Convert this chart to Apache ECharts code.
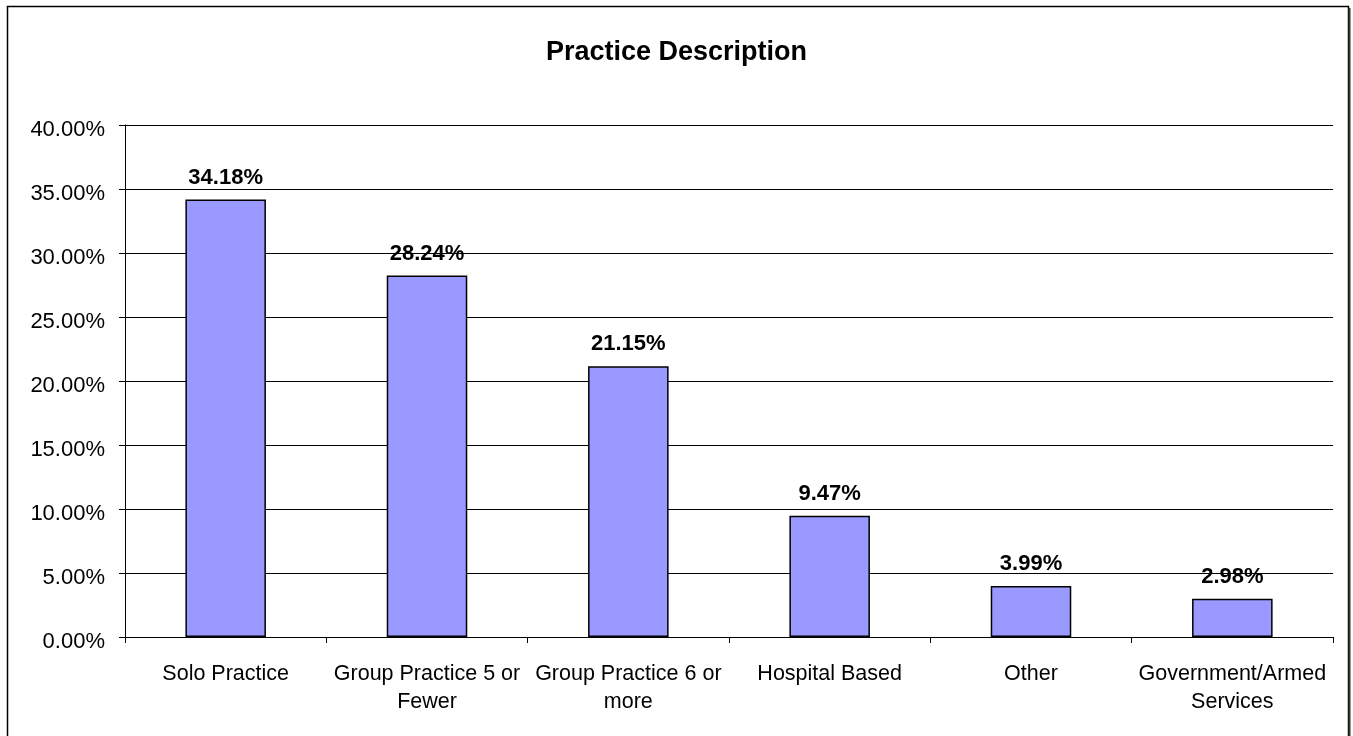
<!DOCTYPE html>
<html><head><meta charset="utf-8">
<script src="https://cdn.jsdelivr.net/npm/echarts@6/dist/echarts.min.js"></script>
<style>html,body{margin:0;padding:0;background:#fff;}#c{width:1353px;height:736px;}</style>
</head><body><div id="c"></div>
<script>
var categories = ["Solo Practice", "Group Practice 5 or\nFewer", "Group Practice 6 or\nmore", "Hospital Based", "Other", "Government/Armed\nServices"];
var values = [34.18, 28.24, 21.15, 9.47, 3.99, 2.98];
var yTicks = {min: 0, max: 40, interval: 5};

var chart = echarts.init(document.getElementById('c'), null, {renderer: 'canvas'});
chart.setOption({
  animation: false,
  backgroundColor: '#fff',
  title: {
    text: 'Practice Description', left: 'center', top: 34,
    textStyle: {fontFamily: 'Liberation Sans, Arial', fontSize: 27, fontWeight: 'bold', color: '#000'}
  },
  graphic: [
    {type: 'rect', shape: {x: 7.5, y: 6.5, width: 1341, height: 740}, style: {fill: 'none', stroke: '#000', lineWidth: 1.5}, z: 100},
    {type: 'line', shape: {x1: 1349.5, y1: 8, x2: 1349.5, y2: 736}, style: {stroke: '#333', lineWidth: 2}, z: 100}
  ],
  grid: {left: 125, right: 20, top: 125, bottom: 99, containLabel: false},
  xAxis: {
    type: 'category', data: categories,
    axisLine: {lineStyle: {color: '#000', width: 1}},
    axisTick: {show: true, length: 6, lineStyle: {color: '#000'}},
    axisLabel: {fontFamily: 'Liberation Sans, Arial', fontSize: 21.5, color: '#000', margin: 23, lineHeight: 28, interval: 0}
  },
  yAxis: {
    type: 'value', min: yTicks.min, max: yTicks.max, interval: yTicks.interval,
    axisLine: {show: true, lineStyle: {color: '#000', width: 1}},
    axisTick: {show: true, length: 6, lineStyle: {color: '#000'}},
    splitLine: {show: true, lineStyle: {color: '#000', width: 1}},
    axisLabel: {fontFamily: 'Liberation Sans, Arial', fontSize: 22, color: '#000', margin: 20, verticalAlign: 'top', lineHeight: 9,
      formatter: function (v) { return v.toFixed(2) + '%'; }}
  },
  series: [{
    type: 'bar', data: values, barWidth: '40%',
    itemStyle: {color: '#9999FF', borderColor: '#000', borderWidth: 1.5},
    label: {show: true, position: 'top', distance: 11, fontFamily: 'Liberation Sans, Arial', fontSize: 22, fontWeight: 'bold', color: '#000',
      formatter: function (p) { return p.value.toFixed(2) + '%'; }}
  }]
});
</script></body></html>
